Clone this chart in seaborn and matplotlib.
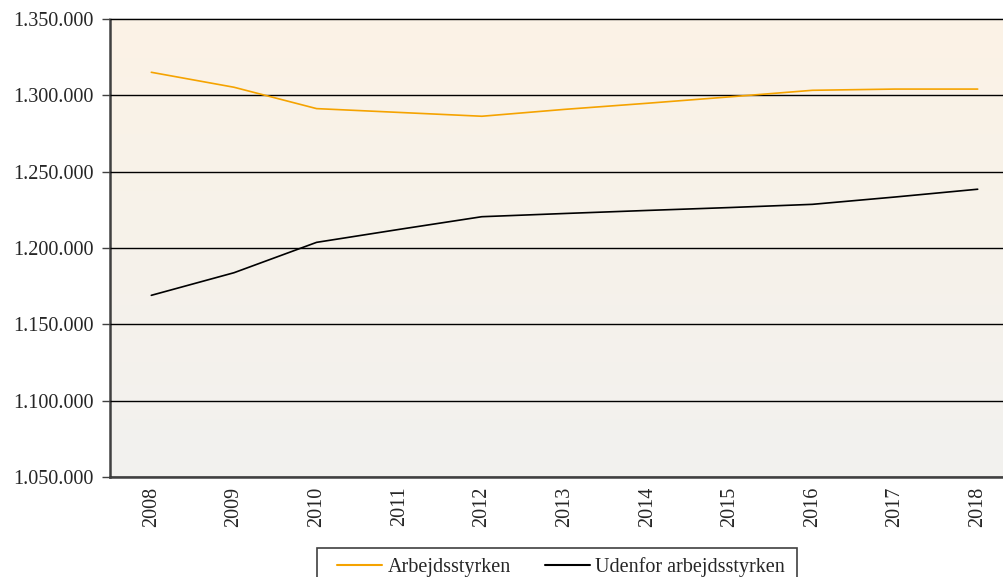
import matplotlib
matplotlib.use("Agg")
import matplotlib.pyplot as plt
import numpy as np
import pandas as pd
import seaborn as sns
from matplotlib.colors import LinearSegmentedColormap
from matplotlib.patches import Rectangle
from matplotlib.ticker import FuncFormatter

sns.set_theme(style="white")
plt.rcParams["font.family"] = ["Liberation Serif", "DejaVu Serif"]

years = [2008, 2009, 2010, 2011, 2012, 2013, 2014, 2015, 2016, 2017, 2018]
arbejdsstyrken = [1315100, 1305300, 1291300, 1288800, 1286300, 1290800,
                  1294800, 1299000, 1303300, 1304100, 1304100]
udenfor = [1169000, 1183800, 1203700, 1212200, 1220500, 1222600,
           1224600, 1226500, 1228600, 1233400, 1238500]
series_names = ["Arbejdsstyrken", "Udenfor arbejdsstyrken"]
colors = ["#F5A300", "#000000"]

df = pd.concat([
    pd.DataFrame({"year": years, "value": arbejdsstyrken, "serie": series_names[0]}),
    pd.DataFrame({"year": years, "value": udenfor, "serie": series_names[1]}),
])

FS = 14.5

fig = plt.figure(figsize=(10.04, 5.77), dpi=100)
ax = fig.add_axes([110 / 1004, 1 - 477 / 577, 909 / 1004, 458 / 577])

# background gradient: light orange at top -> light grey at bottom
cmap = LinearSegmentedColormap.from_list("bg", ["#F2F1EF", "#F6F2EA", "#FCF3E6"])
grad = np.linspace(0, 1, 256).reshape(-1, 1)
ax.imshow(grad, cmap=cmap, aspect="auto", origin="lower",
          extent=(0, 1, 0, 1), transform=ax.transAxes, zorder=0)

sns.lineplot(data=df, x="year", y="value", hue="serie", palette=colors,
             linewidth=1.2, legend=False, ax=ax, zorder=3)

ax.set_xlim(2007.5, 2018.5)
ax.set_ylim(1050000, 1350000)
ax.set_yticks(np.arange(1050000, 1350001, 50000))
ax.yaxis.set_major_formatter(FuncFormatter(lambda v, p: f"{int(v):,}".replace(",", ".")))
ax.grid(axis="y", color="black", linewidth=1, zorder=1)
ax.set_axisbelow(False)

ax.set_xticks(years)
ax.set_xticklabels([str(y) for y in years], rotation=90)
ax.set_xticks([y - 0.5 for y in years], minor=True)
ax.tick_params(axis="x", which="major", length=0, pad=7, labelsize=FS)
ax.tick_params(axis="x", which="minor", length=5, width=1, color="#404040", direction="out")
ax.tick_params(axis="y", length=6, width=1, color="#404040", direction="out",
               labelsize=FS, pad=6, left=True)
ax.set_xlabel("")
ax.set_ylabel("")

for side in ["left", "bottom"]:
    ax.spines[side].set_color("#404040")
    ax.spines[side].set_linewidth(1.8)
ax.spines["top"].set_color("#B0B0B0")
ax.spines["top"].set_linewidth(1.2)
ax.spines["right"].set_visible(False)

handles = [plt.Line2D([], [], color=c, lw=1.5) for c in colors]
fig.legend(handles, series_names, loc="upper left", bbox_to_anchor=(337 / 1004, 1 - 557 / 577),
           ncol=2, frameon=False, fontsize=FS, borderpad=0, borderaxespad=0,
           handlelength=2.25, handletextpad=0.25, columnspacing=1.7)
fig.patches.append(Rectangle((317 / 1004, -0.05), 480 / 1004, 0.05 + 29 / 577,
                             transform=fig.transFigure, fill=False,
                             edgecolor="#404040", linewidth=1.2))

fig.savefig("out.png", dpi=100)
